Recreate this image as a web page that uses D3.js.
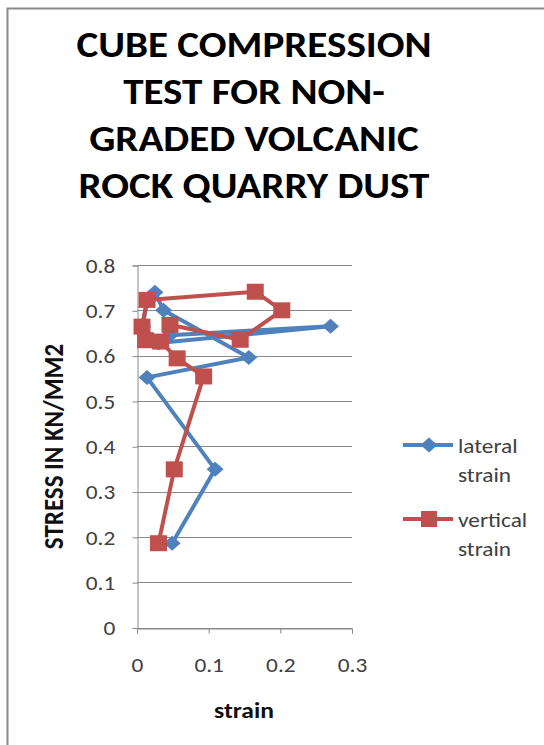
<!DOCTYPE html>
<html>
<head>
<meta charset="utf-8">
<script src="https://cdn.jsdelivr.net/npm/d3@7/dist/d3.min.js"></script>
<style>
  body { margin: 0; background: #fff; }
  svg text { font-family: Carlito, Calibri, Lato, sans-serif; }
</style>
</head>
<body>
<div id="chart"></div>
<script>
// values
var titleLines = ["CUBE COMPRESSION", "TEST FOR NON-", "GRADED VOLCANIC", "ROCK QUARRY DUST"];
var lateralStrain = [0.049, 0.109, 0.014, 0.156, 0.037, 0.025, 0.014, 0.008, 0.030, 0.270, 0.046];
var lateralStress = [0.186, 0.349, 0.552, 0.596, 0.700, 0.740, 0.720, 0.664, 0.628, 0.665, 0.645];
var verticalStrain = [0.030, 0.052, 0.093, 0.056, 0.033, 0.046, 0.144, 0.202, 0.165, 0.014, 0.007, 0.012];
var verticalStress = [0.186, 0.349, 0.554, 0.594, 0.631, 0.668, 0.635, 0.700, 0.741, 0.723, 0.664, 0.634];
var xTicks = [0, 0.1, 0.2, 0.3];
var yTicks = [0, 0.1, 0.2, 0.3, 0.4, 0.5, 0.6, 0.7, 0.8];
var seriesNames = [["lateral", "strain"], ["vertical", "strain"]];

function chart(){
  var w = 544;
  var h = 745;
  var sx = 1.11;   // the picture is a bit wider than tall, text too
  var blue = "#4F81BD";
  var red = "#C0504D";
  var grey = "#8a8a8a";
  var svg = d3.select("#chart")
              .append("svg")
              .attr("width", w)
              .attr("height", h);

  // outer chart border
  svg.append("rect")
    .attr("x", 7.5).attr("y", 8.5)
    .attr("width", 600).attr("height", 800)
    .attr("fill", "none")
    .attr("stroke", grey)
    .attr("stroke-width", 2);

  svg.selectAll(".title")
    .data(titleLines)
    .enter()
    .append("text")
    .attr("transform", function(d, i){ return "translate(254," + (57 + i*47) + ") scale(" + sx + ",1)"; })
    .attr("text-anchor", "middle")
    .attr("font-size", "37px")
    .attr("font-weight", "bold")
    .attr("fill", "#000")
    .text(function(d){ return d; });

  var x = d3.scaleLinear().domain([0, 0.3]).range([137, 352]);
  var y = d3.scaleLinear().domain([0, 0.8]).range([627.5, 265]);

  // grid
  svg.append("g")
    .selectAll("line")
    .data(yTicks)
    .enter()
    .append("line")
    .attr("x1", x(0)).attr("x2", x(0.3))
    .attr("y1", function(d){ return Math.round(y(d)) + 0.5; })
    .attr("y2", function(d){ return Math.round(y(d)) + 0.5; })
    .attr("stroke", grey)
    .attr("stroke-width", 1);

  var fmt = function(d){ return d === 0 ? "0" : d3.format(".1f")(d); };

  var yAxis = d3.axisLeft(y).tickValues(yTicks).tickSize(5).tickPadding(15).tickFormat(fmt);
  var gy = svg.append("g")
    .attr("transform", "translate(" + (x(0) + 0.5) + ",0.5)")
    .call(yAxis);
  gy.select(".domain").attr("stroke", grey);
  gy.selectAll(".tick line").attr("stroke", grey);
  gy.selectAll("text")
    .attr("transform", "scale(" + sx + ",1)")
    .attr("font-size", "21px").attr("fill", "#404040")
    .attr("font-family", "Carlito, Calibri, Lato, sans-serif");

  var xAxis = d3.axisBottom(x).tickValues(xTicks).tickSize(5).tickFormat(fmt);
  var gx = svg.append("g")
    .attr("transform", "translate(0," + (Math.round(y(0)) + 0.5) + ")")
    .call(xAxis);
  gx.select(".domain").attr("stroke", grey);
  gx.selectAll(".tick line").attr("stroke", grey);
  gx.selectAll("text")
    .attr("y", 44).attr("dy", 0)
    .attr("transform", "scale(" + sx + ",1)")
    .attr("font-size", "21px").attr("fill", "#404040")
    .attr("font-family", "Carlito, Calibri, Lato, sans-serif");

  svg.append("text")
    .attr("transform", "translate(244,718) scale(" + sx + ",1)")
    .attr("text-anchor", "middle")
    .attr("font-size", "23px").attr("font-weight", "bold")
    .attr("fill", "#111")
    .text("strain");

  svg.append("text")
    .attr("transform", "translate(63,446.5) rotate(-90) scale(1," + sx + ")")
    .attr("text-anchor", "middle")
    .attr("font-size", "25px").attr("font-weight", "bold")
    .attr("fill", "#111")
    .text("STRESS  IN KN/MM2");

  var diamond = "M0,-7.5L8.5,0L0,7.5L-8.5,0Z";
  var line = d3.line()
    .x(function(d){ return x(d[0]); })
    .y(function(d){ return y(d[1]); });

  var lateral = d3.zip(lateralStrain, lateralStress);
  var vertical = d3.zip(verticalStrain, verticalStress);

  svg.append("path")
    .datum(lateral)
    .attr("d", line)
    .attr("fill", "none")
    .attr("stroke", blue)
    .attr("stroke-width", 4)
    .attr("stroke-linejoin", "round");
  svg.selectAll(".lat")
    .data(lateral)
    .enter()
    .append("path")
    .attr("class", "lat")
    .attr("transform", function(d){ return "translate(" + x(d[0]) + "," + y(d[1]) + ")"; })
    .attr("d", diamond)
    .attr("fill", blue);

  svg.append("path")
    .datum(vertical)
    .attr("d", line)
    .attr("fill", "none")
    .attr("stroke", red)
    .attr("stroke-width", 4)
    .attr("stroke-linejoin", "round");
  svg.selectAll(".vert")
    .data(vertical)
    .enter()
    .append("rect")
    .attr("class", "vert")
    .attr("x", function(d){ return x(d[0]) - 8.5; })
    .attr("y", function(d){ return y(d[1]) - 8; })
    .attr("width", 17).attr("height", 16)
    .attr("fill", red);

  // legend
  var lg = svg.append("g");
  var colors = [blue, red];
  var ly = [445, 519];
  seriesNames.forEach(function(name, i){
    lg.append("line")
      .attr("x1", 403).attr("x2", 453)
      .attr("y1", ly[i]).attr("y2", ly[i])
      .attr("stroke", colors[i]).attr("stroke-width", 4);
    if (i === 0) {
      lg.append("path")
        .attr("transform", "translate(429," + ly[i] + ")")
        .attr("d", diamond).attr("fill", colors[i]);
    } else {
      lg.append("rect")
        .attr("x", 421).attr("y", ly[i] - 8)
        .attr("width", 16).attr("height", 16)
        .attr("fill", colors[i]);
    }
    lg.selectAll(".l" + i)
      .data(name)
      .enter()
      .append("text")
      .attr("transform", function(d, j){ return "translate(458," + (ly[i] + 8 + j*28.5) + ") scale(" + sx + ",1)"; })
      .attr("font-size", "21px")
      .attr("fill", "#404040")
      .text(function(d){ return d; });
  });
}
chart();
</script>
</body>
</html>
